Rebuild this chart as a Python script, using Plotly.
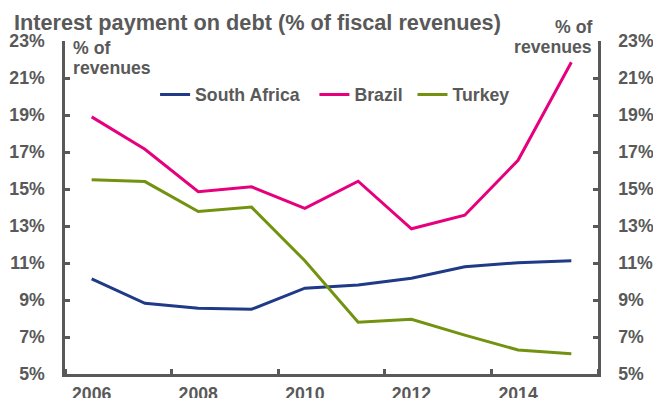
import plotly.graph_objects as go

years = [2006, 2007, 2008, 2009, 2010, 2011, 2012, 2013, 2014, 2015]
south_africa = [10.14, 8.82, 8.55, 8.5, 9.64, 9.81, 10.18, 10.8, 11.02, 11.12]
brazil = [18.9, 17.15, 14.85, 15.12, 13.95, 15.42, 12.85, 13.58, 16.55, 21.85]
turkey = [15.5, 15.4, 13.78, 14.02, 11.12, 7.8, 7.96, 7.1, 6.3, 6.1]
label_years = [2006, 2008, 2010, 2012, 2014]
y_ticks = [5, 7, 9, 11, 13, 15, 17, 19, 21, 23]
y_tick_text = [f"{v}%" for v in y_ticks]

GRAY = "#595959"
FONT = "Liberation Sans, Arial, sans-serif"
FS = 17.7
NB = "\u00a0"

fig = go.Figure()
fig.add_trace(go.Scatter(x=years, y=south_africa, name="South Africa" + NB * 2, mode="lines",
                         line=dict(color="#1f3a87", width=3)))
fig.add_trace(go.Scatter(x=years, y=brazil, name="Brazil" + NB, mode="lines",
                         line=dict(color="#e6007e", width=3)))
fig.add_trace(go.Scatter(x=years, y=turkey, name="Turkey", mode="lines",
                         line=dict(color="#739210", width=3)))
# invisible trace to activate the right axis
fig.add_trace(go.Scatter(x=years, y=south_africa, yaxis="y2", mode="lines", showlegend=False,
                         hoverinfo="skip", opacity=0, line=dict(width=0)))

axis_common = dict(
    range=[5, 23], tickvals=y_ticks, ticktext=y_tick_text, showgrid=False, zeroline=False,
    showline=True, linecolor=GRAY, linewidth=2.5, ticks="inside", ticklen=5, tickwidth=2.5,
    tickcolor=GRAY, tickfont=dict(family=FONT, size=FS, color=GRAY, weight="bold"),
    ticklabelstandoff=14, automargin=False,
)

label_font = dict(family=FONT, size=FS, color=GRAY, weight="bold")


def ann(text, x, y, xanchor):
    return dict(text=text, xref="paper", yref="paper", x=x, y=y, xanchor=xanchor,
                yanchor="middle", showarrow=False, font=label_font)


fig.update_layout(
    width=653, height=398,
    margin=dict(l=65, r=55, t=41, b=24, autoexpand=False),
    paper_bgcolor="white", plot_bgcolor="white",
    showlegend=True,
    legend=dict(orientation="h", x=0.169, xanchor="left", y=0.838, yanchor="middle",
                font=label_font, bgcolor="rgba(0,0,0,0)", itemclick=False),
    title=dict(text="Interest payment on debt (% of fiscal revenues)",
               font=dict(family=FONT, size=21.7, color=GRAY, weight="bold"),
               xref="container", yref="container", x=14 / 653, xanchor="left",
               y=1 - 15 / 398, yanchor="top"),
    xaxis=dict(range=[2005.5, 2015.5], tickvals=label_years, ticktext=[str(y) for y in label_years],
               showgrid=False, zeroline=False, showline=True, linecolor=GRAY, linewidth=2.5,
               ticks="", tickfont=label_font, ticklabelstandoff=2, automargin=False,
               minor=dict(tickvals=[2005.5, 2007.5, 2009.5, 2011.5, 2013.5, 2015.5],
                          ticks="inside", ticklen=5, tickwidth=2.5, tickcolor=GRAY,
                          showgrid=False)),
    yaxis=dict(side="left", **axis_common),
    yaxis2=dict(side="right", overlaying="y", **axis_common),
    annotations=[
        ann("% of", 0.012, 0.9796, "left"),
        ann("revenues", 0.012, 0.9195, "left"),
        ann("% of", 0.993, 1.0417, "right"),
        ann("revenues", 0.993, 0.9817, "right"),
    ],
)

fig.write_html("out.html")
